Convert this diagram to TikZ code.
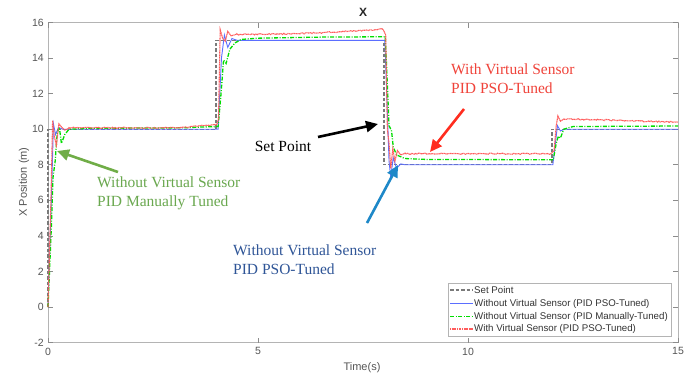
\documentclass[tikz,border=0pt]{standalone}
\usepackage{fontspec}
\setmainfont{Liberation Serif}
\setsansfont{Liberation Sans}
\usetikzlibrary{arrows.meta}
\definecolor{spgray}{HTML}{7A7A7A}
\definecolor{pblue}{HTML}{5B6EFF}
\definecolor{pgreen}{HTML}{00DD00}
\definecolor{pred}{HTML}{FF5C5C}
\definecolor{agreen}{HTML}{70AD47}
\definecolor{ared}{HTML}{FF2D1F}
\definecolor{ablue}{HTML}{1E88C8}
\definecolor{tblue}{HTML}{2F5597}
\definecolor{tred}{HTML}{F0433A}
\definecolor{tgreen}{HTML}{6AA84F}
\definecolor{axgray}{HTML}{B4B4B4}
\definecolor{lblgray}{HTML}{555555}
\begin{document}
\begin{tikzpicture}[x=1pt,y=-1pt,
  anno/.style={font=\fontsize{15.5}{18.5}\selectfont, align=left, anchor=north west, inner sep=0pt},
  callout/.style={line width=2.6pt, -{Triangle[length=12pt,width=11pt]}},
  ticklbl/.style={font=\sffamily\fontsize{10.5}{12}\selectfont, text=lblgray, inner sep=0pt},
  axlbl/.style={font=\sffamily\fontsize{11}{13}\selectfont, text=lblgray, inner sep=0pt},
  legtxt/.style={font=\sffamily\fontsize{9.7}{11}\selectfont, text=black!80, anchor=west, inner sep=0pt},
  setpt/.style={draw=spgray, line width=1.1pt, dash pattern=on 3.5pt off 2pt},
  bluecurve/.style={draw=pblue, line width=0.9pt, solid},
  greencurve/.style={draw=pgreen, line width=1.3pt, dash pattern=on 4pt off 1.5pt on 1pt off 1.5pt},
  redcurve/.style={draw=pred, line width=1.1pt, dash pattern=on 1.2pt off 0.5pt},
  axbox/.style={axgray, line width=0.8pt},
  tickmark/.style={black!45, line width=0.6pt}]
\useasboundingbox[fill=white] (0,0) rectangle (692,376);
\pgfmathsetseed{7}

% title and axis labels
\node[font=\sffamily\bfseries\fontsize{12}{14}\selectfont, text=black!85] (title) at (363,12) {X};
\node[axlbl] (xlabel) at (362,368) {Time(s)};
\node[axlbl, rotate=90] (ylabel) at (24,182) {X Position (m)};

\begin{scope}[shift={(48pt,-307pt)}, x=42pt, y=17.78pt]
  % axes box
  \draw[axbox] (0,-2) rectangle (15,16);
  \foreach \yv in {-2,0,...,16} {
    \draw[tickmark] (0,\yv) -- ++(5pt,0);
    \draw[tickmark] (15,\yv) -- ++(-5pt,0);
    \node[ticklbl, anchor=east] at ([xshift=-4pt]0,\yv) {\yv};
  }
  \foreach \xv in {0,5,10,15} {
    \draw[tickmark] (\xv,-2) -- ++(0,5pt);
    \draw[tickmark] (\xv,16) -- ++(0,-5pt);
    \node[ticklbl, anchor=north] at ([yshift=-5pt]\xv,-2) {\xv};
  }
  % set point
  \draw[setpt] (0,0) -- (0,10) -- (4,10) -- (4,15) -- (8,15) -- (8,8) -- (12,8) -- (12,10) -- (15,10);
  % blue
  \draw[bluecurve] (0,0) -- (0.08,6) -- (0.13,10.3) -- (0.18,9.7) -- (0.25,10.1) -- (0.35,10) -- (4.05,10)
    -- (4.13,14) -- (4.2,15.3) -- (4.28,14.6) -- (4.38,15.1) -- (4.5,15) -- (8.02,15)
    -- (8.08,11) -- (8.12,8.2) -- (8.16,7.3) -- (8.22,8.4) -- (8.3,7.8) -- (8.4,8.05) -- (8.5,8) -- (12.02,8)
    -- (12.08,9.2) -- (12.13,10.2) -- (12.2,9.9) -- (12.3,10) -- (15,10);
  % green
  \draw[greencurve] (0,0) -- (0.08,4.5) -- (0.12,7.3) -- (0.17,8.2) -- (0.22,9.8) -- (0.27,10.1)
    -- (0.32,9.2) -- (0.4,9.7) -- (0.5,10) -- (1,10.05) -- (3.3,10.08) -- (3.6,10.12) -- (4.05,10.15)
    -- (4.12,12) -- (4.18,13.9) -- (4.24,13.7) -- (4.33,14.5) -- (4.45,14.85) -- (4.6,15.05) -- (5,15.12)
    -- (6.5,15.18) -- (8.03,15.2) -- (8.08,12.5) -- (8.12,10.2) -- (8.18,9.9) -- (8.22,9) -- (8.3,8.55)
    -- (8.5,8.35) -- (9,8.3) -- (12.03,8.28) -- (12.1,9.2) -- (12.15,9.6) -- (12.2,9.5) -- (12.28,10)
    -- (12.5,10.15) -- (15,10.18);
  % red
  \draw[redcurve] (0,0) -- (0.07,6) -- (0.11,10.5) -- (0.15,9.6) -- (0.2,9.1) -- (0.26,10.3) -- (0.33,10.1)
    -- (0.4,9.95) -- (0.5,10.05)
    -- plot[domain=0.5:4.02, samples=110] (\x,{10.08+0.2*(\x>3.1)*(\x-3.1)+0.03*rand})
    -- (4.06,10.6) -- (4.1,15.6) -- (4.16,15.1) -- (4.22,14.95) -- (4.28,15.5) -- (4.36,15.25) -- (4.5,15.35)
    -- plot[domain=4.5:7.98, samples=110] (\x,{15.33+0.3*((\x-4.5)/3.5)^2+0.035*rand})
    -- (8.04,15.3) -- (8.08,10) -- (8.12,9.2) -- (8.16,7.8) -- (8.21,8.9) -- (8.26,8.2) -- (8.32,8.8)
    -- (8.4,8.55) -- (8.5,8.65)
    -- plot[domain=8.5:11.98, samples=110] (\x,{8.62+0.035*rand})
    -- (12.05,8.8) -- (12.1,10.2) -- (12.14,10.75) -- (12.2,10.45) -- (12.3,10.6)
    -- plot[domain=12.3:15, samples=90] (\x,{10.58-0.18*(\x-12.3)/2.7+0.035*rand});
\end{scope}

% legend
\draw[axgray, fill=white, line width=0.6pt] (448,283) rectangle (671,336);
\coordinate (l1a) at (450,290); \coordinate (l1b) at (473,290);
\coordinate (l2a) at (450,303.5); \coordinate (l2b) at (473,303.5);
\coordinate (l3a) at (450,316.5); \coordinate (l3b) at (473,316.5);
\coordinate (l4a) at (450,329); \coordinate (l4b) at (473,329);
\path[setpt] (l1a) -- (l1b);
\path[bluecurve] (l2a) -- (l2b);
\path[greencurve] (l3a) -- (l3b);
\path[redcurve] (l4a) -- (l4b);
\node[legtxt] (leg1) at (474,290) {Set Point};
\node[legtxt] (leg2) at (474,303.5) {Without Virtual Sensor (PID PSO-Tuned)};
\node[legtxt] (leg3) at (474,316.5) {Without Virtual Sensor (PID Manually-Tuned)};
\node[legtxt] (leg4) at (474,329) {With Virtual Sensor (PID PSO-Tuned)};

% annotations
\node[anno, text=tgreen] (gtext) at (97,177) {Without Virtual Sensor\\PID Manually Tuned};
\node[anno, text=tred] (rtext) at (451,64) {With Virtual Sensor\\PID PSO-Tuned};
\node[anno, text=tblue] (btext) at (233,245) {Without Virtual Sensor\\PID PSO-Tuned};
\node[font=\fontsize{15.5}{18.5}\selectfont, inner sep=0pt] (sptext) at (283,146) {Set Point};

\coordinate (gtail) at (118,172); \coordinate (gtip) at (57,151);
\coordinate (ktail) at (318,137); \coordinate (ktip) at (378,124);
\coordinate (rtail) at (464,109); \coordinate (rtip) at (430,152);
\coordinate (btail) at (367,223); \coordinate (btip) at (398,165);
\draw[callout, agreen] (gtail) -- (gtip);
\draw[callout, black] (ktail) -- (ktip);
\draw[callout, ared] (rtail) -- (rtip);
\draw[callout, ablue] (btail) -- (btip);
\end{tikzpicture}
\end{document}
